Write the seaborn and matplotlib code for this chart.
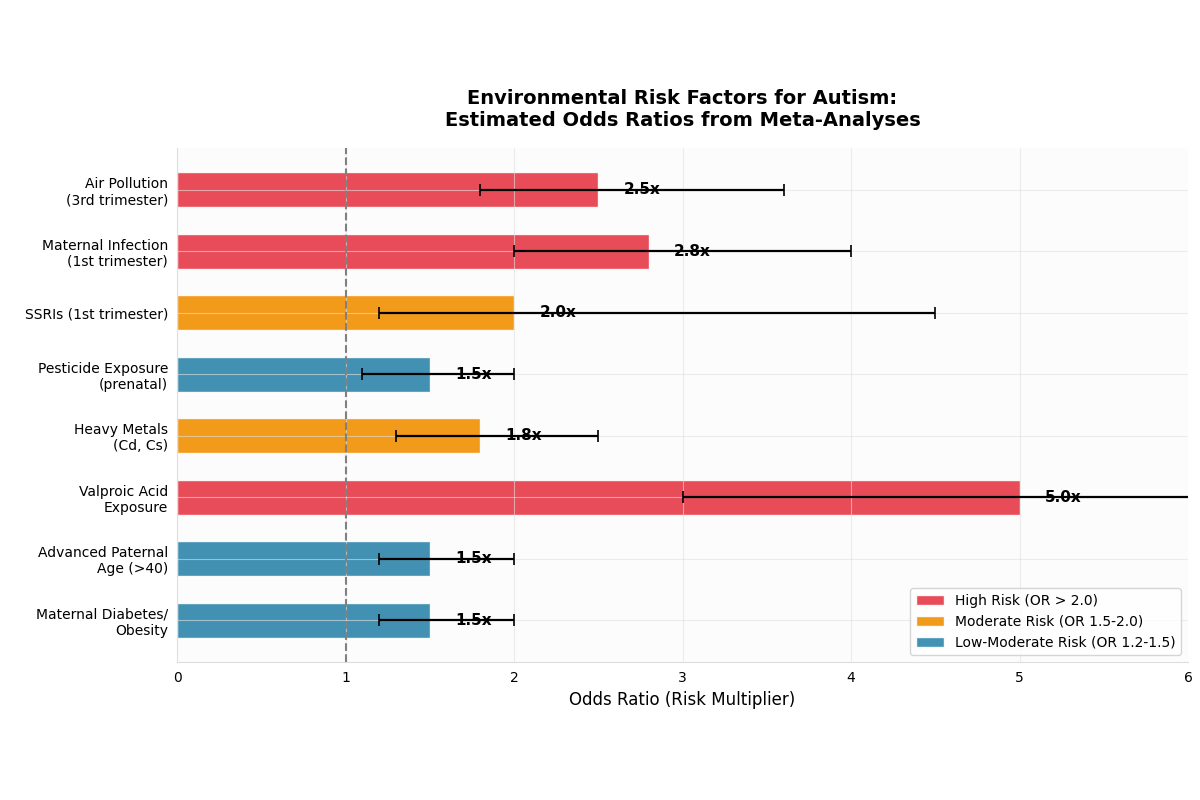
import matplotlib
matplotlib.use("Agg")
import matplotlib.pyplot as plt
import numpy as np
import pandas as pd
import seaborn as sns

sns.set_style("whitegrid")
plt.rcParams["font.family"] = ["DejaVu Sans"]
plt.rcParams["text.color"] = "black"
plt.rcParams["axes.labelcolor"] = "black"
plt.rcParams["xtick.color"] = "black"
plt.rcParams["ytick.color"] = "black"

# values
factors = [
    "Air Pollution\n(3rd trimester)",
    "Maternal Infection\n(1st trimester)",
    "SSRIs (1st trimester)",
    "Pesticide Exposure\n(prenatal)",
    "Heavy Metals\n(Cd, Cs)",
    "Valproic Acid\nExposure",
    "Advanced Paternal\nAge (>40)",
    "Maternal Diabetes/\nObesity",
]
odds_ratio = [2.5, 2.8, 2.0, 1.5, 1.8, 5.0, 1.5, 1.5]
ci_low = [1.8, 2.0, 1.2, 1.1, 1.3, 3.0, 1.2, 1.2]
ci_high = [3.6, 4.0, 4.5, 2.0, 2.5, 6.5, 2.0, 2.0]
risk = ["High", "High", "Moderate", "Low-Moderate", "Moderate", "High",
        "Low-Moderate", "Low-Moderate"]

risk_labels = {
    "High": "High Risk (OR > 2.0)",
    "Moderate": "Moderate Risk (OR 1.5-2.0)",
    "Low-Moderate": "Low-Moderate Risk (OR 1.2-1.5)",
}
palette = {
    "High Risk (OR > 2.0)": "#E63946",
    "Moderate Risk (OR 1.5-2.0)": "#F18F01",
    "Low-Moderate Risk (OR 1.2-1.5)": "#2E86AB",
}

df = pd.DataFrame({
    "Factor": factors,
    "OR": odds_ratio,
    "Risk": [risk_labels[r] for r in risk],
})

fig, ax = plt.subplots(figsize=(12, 8), dpi=100)
fig.subplots_adjust(left=0.1475, right=0.99, top=0.815, bottom=0.1725)
ax.set_facecolor("#FCFCFC")

sns.barplot(data=df, y="Factor", x="OR", hue="Risk", hue_order=list(palette),
            palette=palette, dodge=False, width=0.57, alpha=0.9,
            saturation=1, orient="h", ax=ax)

ypos = np.arange(len(factors))
xerr = [np.array(odds_ratio) - np.array(ci_low),
        np.array(ci_high) - np.array(odds_ratio)]
ax.errorbar(odds_ratio, ypos, xerr=xerr, fmt="none", ecolor="black",
            elinewidth=1.6, capsize=4, capthick=1.2, zorder=6)

for y, v in zip(ypos, odds_ratio):
    ax.text(v + 0.15, y, f"{v:.1f}x", va="center", ha="left",
            fontsize=11, fontweight="bold", zorder=5)

ax.axvline(1, color="gray", linestyle="--", linewidth=1.5, zorder=4)

ax.set_xlim(0, 6)
ax.set_ylim(len(factors) - 0.32, -0.68)
ax.set_axisbelow(False)
ax.grid(True, color="#E0E0E0", alpha=0.6)
ax.set_ylabel("")
ax.set_xlabel("Odds Ratio (Risk Multiplier)", fontsize=12)
ax.tick_params(axis="both", labelsize=10, length=3, color="#444444")
ax.set_title("Environmental Risk Factors for Autism:\nEstimated Odds Ratios from Meta-Analyses",
             fontsize=14, fontweight="bold", pad=16)

for side in ["top", "right"]:
    ax.spines[side].set_visible(False)
for side in ["left", "bottom"]:
    ax.spines[side].set_color("#DDDDDD")

ax.legend(loc="lower right", fontsize=10, frameon=True)

plt.savefig("out.png", dpi=100)
